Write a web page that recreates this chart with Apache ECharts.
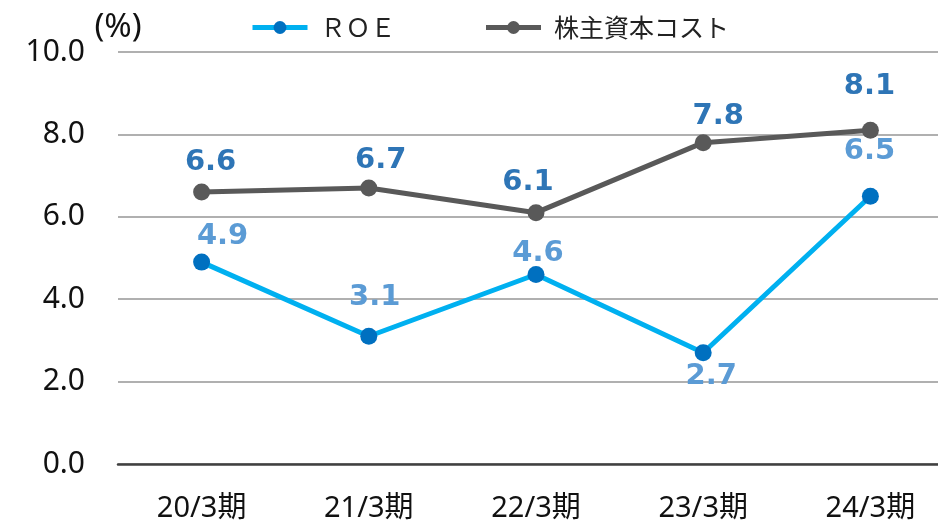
<!DOCTYPE html>
<html>
<head>
<meta charset="utf-8">
<script src="https://cdn.jsdelivr.net/npm/echarts@6/dist/echarts.min.js"></script>
<style>
  html, body { margin: 0; padding: 0; background: #fff; overflow: hidden; }
  #chart { width: 954px; height: 525px; }
</style>
</head>
<body>
<div id="chart"></div>
<script>
const categories = ['20/3期', '21/3期', '22/3期', '23/3期', '24/3期']
const roe = [4.9, 3.1, 4.6, 2.7, 6.5]
const costOfEquity = [6.6, 6.7, 6.1, 7.8, 8.1]

// label offsets from each point, in px (style only)
const roeLabelOffset = [[21, -26], [6, -39], [2, -21], [8, 24], [-1, -45]]
const costLabelOffset = [[9, -30], [12, -27], [-8, -30], [15, -26], [-1, -44]]

const numFont = '"Noto Sans", "Noto Sans CJK JP", sans-serif'

function withLabels (values, offsets) {
  return values.map((v, i) => ({
    value: v,
    label: { position: 'inside', offset: offsets[i] }
  }))
}

const chart = echarts.init(document.getElementById('chart'))
chart.setOption({
  animation: false,
  grid: { left: 118, right: 0, top: 52, bottom: 61 },
  legend: {
    top: 10,
    left: 245,
    itemWidth: 55,
    itemHeight: 16,
    itemGap: 88,
    lineStyle: { width: 5 },
    textStyle: { fontSize: 25, color: '#222', fontFamily: 'Noto Sans CJK JP', padding: [0, 0, 0, 8] },
    data: ['ＲＯＥ', '株主資本コスト']
  },
  xAxis: {
    type: 'category',
    data: categories,
    axisTick: { show: false },
    axisLine: { lineStyle: { color: '#404040', width: 2.5 } },
    axisLabel: { fontSize: 29, color: '#111', margin: 30, fontFamily: numFont }
  },
  yAxis: {
    type: 'value',
    min: 0,
    max: 10,
    interval: 2,
    name: '(%)',
    nameGap: 8,
    nameTextStyle: { fontSize: 33, color: '#111', fontFamily: numFont },
    axisLabel: {
      fontSize: 30,
      color: '#111',
      margin: 33,
      fontFamily: numFont,
      formatter: v => v.toFixed(1)
    },
    splitLine: { lineStyle: { color: '#b0b0b0', width: 2 } }
  },
  series: [
    {
      name: 'ＲＯＥ',
      type: 'line',
      data: withLabels(roe, roeLabelOffset),
      symbol: 'circle',
      symbolSize: 17,
      itemStyle: { color: '#0070c0' },
      lineStyle: { color: '#00b0f0', width: 5 },
      z: 3,
      label: {
        show: true,
        fontSize: 29,
        fontWeight: 'bold',
        color: '#5b9bd5',
        fontFamily: 'DejaVu Sans',
        formatter: p => p.value.toFixed(1)
      }
    },
    {
      name: '株主資本コスト',
      type: 'line',
      data: withLabels(costOfEquity, costLabelOffset),
      symbol: 'circle',
      symbolSize: 17,
      itemStyle: { color: '#595959' },
      lineStyle: { color: '#595959', width: 5 },
      label: {
        show: true,
        fontSize: 29,
        fontWeight: 'bold',
        color: '#2e75b6',
        fontFamily: 'DejaVu Sans',
        formatter: p => p.value.toFixed(1)
      }
    }
  ]
})
</script>
</body>
</html>
